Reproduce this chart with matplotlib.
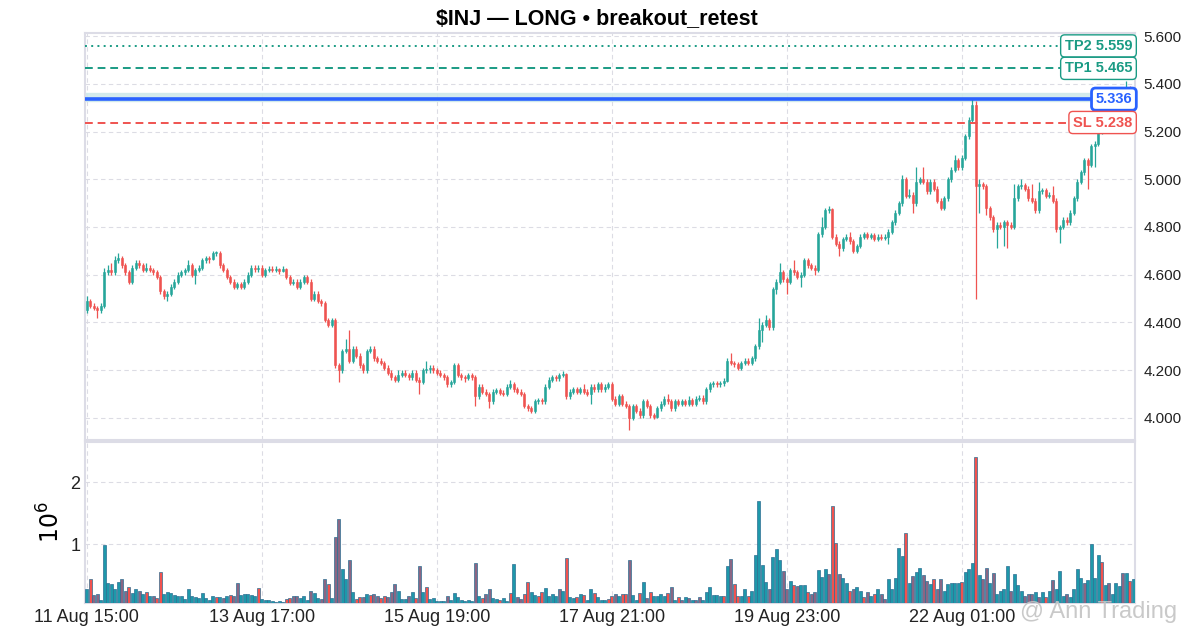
import matplotlib.pyplot as plt
import matplotlib.transforms as mtransforms
import numpy as np

plt.rcParams['font.family'] = ['Liberation Sans', 'DejaVu Sans']

title = "$INJ — LONG • breakout_retest"
tick_pos = [0, 50, 100, 150, 200, 250]
tick_labels = ["11 Aug 15:00", "13 Aug 17:00", "15 Aug 19:00",
               "17 Aug 21:00", "19 Aug 23:00", "22 Aug 01:00"]

first_open = 4.45
closes = [
    4.49, 4.47, 4.46, 4.45, 4.47, 4.61, 4.62, 4.61, 4.66, 4.67,
    4.64, 4.61, 4.57, 4.63, 4.65, 4.64, 4.62, 4.63, 4.62, 4.61,
    4.59, 4.53, 4.51, 4.52, 4.55, 4.57, 4.60, 4.61, 4.62, 4.64,
    4.60, 4.62, 4.63, 4.66, 4.67, 4.665, 4.69, 4.69, 4.64, 4.62,
    4.59, 4.57, 4.55, 4.56, 4.55, 4.57, 4.60, 4.63, 4.625, 4.63,
    4.60, 4.62, 4.625, 4.62, 4.625, 4.615, 4.625, 4.59, 4.565, 4.57,
    4.55, 4.57, 4.59, 4.57, 4.50, 4.52, 4.49, 4.48, 4.41, 4.39,
    4.41, 4.22, 4.20, 4.28, 4.29, 4.24, 4.29, 4.26, 4.22, 4.20,
    4.28, 4.29, 4.25, 4.24, 4.23, 4.21, 4.19, 4.17, 4.16, 4.18,
    4.19, 4.18, 4.17, 4.19, 4.16, 4.15, 4.20, 4.205, 4.21, 4.20,
    4.19, 4.18, 4.17, 4.14, 4.15, 4.22, 4.18, 4.17, 4.165, 4.18,
    4.17, 4.09, 4.13, 4.11, 4.10, 4.07, 4.11, 4.115, 4.105, 4.10,
    4.13, 4.14, 4.12, 4.11, 4.10, 4.05, 4.04, 4.03, 4.07, 4.075,
    4.07, 4.13, 4.16, 4.17, 4.165, 4.18, 4.185, 4.09, 4.11, 4.12,
    4.11, 4.12, 4.11, 4.10, 4.13, 4.12, 4.14, 4.12, 4.13, 4.14,
    4.08, 4.06, 4.09, 4.06, 4.05, 4.00, 4.05, 4.03, 4.01, 4.07,
    4.05, 4.01, 4.005, 4.04, 4.06, 4.08, 4.07, 4.04, 4.07, 4.06,
    4.07, 4.06, 4.075, 4.06, 4.08, 4.085, 4.07, 4.12, 4.14, 4.145,
    4.14, 4.145, 4.155, 4.24, 4.23, 4.225, 4.21, 4.23, 4.24, 4.23,
    4.25, 4.30, 4.37, 4.39, 4.41, 4.38, 4.54, 4.57, 4.61, 4.58,
    4.57, 4.62, 4.61, 4.59, 4.60, 4.66, 4.64, 4.63, 4.62, 4.77,
    4.80, 4.87, 4.875, 4.76, 4.73, 4.71, 4.75, 4.76, 4.74, 4.70,
    4.72, 4.76, 4.77, 4.76, 4.765, 4.75, 4.76, 4.755, 4.76, 4.78,
    4.82, 4.86, 4.90, 5.00, 4.93, 4.935, 4.90, 4.99, 5.00, 4.99,
    4.95, 4.99, 4.96, 4.91, 4.88, 4.92, 5.00, 5.04, 5.08, 5.05,
    5.09, 5.18, 5.25, 5.31, 4.97, 4.98, 4.97, 4.88, 4.84, 4.79,
    4.81, 4.80, 4.82, 4.81, 4.80, 4.92, 4.97, 4.975, 4.96, 4.92,
    4.91, 4.87, 4.95, 4.955, 4.93, 4.935, 4.91, 4.79, 4.80, 4.83,
    4.82, 4.86, 4.92, 4.99, 5.03, 5.08, 5.06, 5.14, 5.15, 5.20,
    5.23, 5.22, 5.26, 5.29, 5.28, 5.31, 5.35, 5.38, 5.36, 5.37,
]
highs = [
    4.51, 4.50, 4.48, 4.47, 4.48, 4.63, 4.64, 4.65, 4.68, 4.69,
    4.68, 4.65, 4.62, 4.64, 4.66, 4.66, 4.65, 4.65, 4.64, 4.63,
    4.62, 4.60, 4.54, 4.53, 4.56, 4.58, 4.61, 4.62, 4.63, 4.66,
    4.65, 4.63, 4.64, 4.67, 4.68, 4.68, 4.70, 4.70, 4.70, 4.65,
    4.63, 4.60, 4.58, 4.57, 4.57, 4.58, 4.61, 4.64, 4.64, 4.64,
    4.64, 4.63, 4.635, 4.635, 4.635, 4.63, 4.635, 4.63, 4.60, 4.58,
    4.58, 4.58, 4.60, 4.60, 4.58, 4.53, 4.53, 4.50, 4.49, 4.42,
    4.42, 4.42, 4.23, 4.29, 4.33, 4.37, 4.30, 4.30, 4.27, 4.23,
    4.29, 4.30, 4.30, 4.26, 4.25, 4.24, 4.22, 4.20, 4.18, 4.20,
    4.20, 4.20, 4.19, 4.20, 4.20, 4.17, 4.21, 4.24, 4.22, 4.22,
    4.21, 4.20, 4.19, 4.18, 4.16, 4.23, 4.23, 4.19, 4.18, 4.19,
    4.19, 4.18, 4.14, 4.14, 4.12, 4.11, 4.12, 4.125, 4.125, 4.115,
    4.14, 4.16, 4.15, 4.13, 4.12, 4.11, 4.06, 4.05, 4.08, 4.085,
    4.085, 4.14, 4.17, 4.18, 4.18, 4.19, 4.195, 4.19, 4.12, 4.13,
    4.13, 4.13, 4.14, 4.12, 4.14, 4.14, 4.15, 4.15, 4.14, 4.15,
    4.15, 4.09, 4.10, 4.10, 4.07, 4.06, 4.06, 4.06, 4.04, 4.08,
    4.08, 4.06, 4.02, 4.05, 4.07, 4.09, 4.10, 4.08, 4.08, 4.08,
    4.08, 4.08, 4.09, 4.085, 4.09, 4.095, 4.095, 4.13, 4.15, 4.155,
    4.155, 4.155, 4.165, 4.25, 4.27, 4.24, 4.235, 4.24, 4.25, 4.25,
    4.26, 4.31, 4.42, 4.40, 4.43, 4.42, 4.55, 4.58, 4.65, 4.62,
    4.59, 4.63, 4.66, 4.62, 4.61, 4.67, 4.67, 4.65, 4.64, 4.78,
    4.84, 4.88, 4.89, 4.88, 4.77, 4.74, 4.76, 4.77, 4.78, 4.75,
    4.73, 4.77, 4.78, 4.78, 4.775, 4.775, 4.77, 4.77, 4.77, 4.79,
    4.83, 4.87, 4.91, 5.02, 5.01, 4.96, 4.945, 5.05, 5.01, 5.05,
    5.00, 5.00, 5.00, 4.97, 4.92, 4.93, 5.01, 5.05, 5.10, 5.09,
    5.10, 5.19, 5.26, 5.335, 5.33, 5.00, 4.99, 4.98, 4.89, 4.85,
    4.82, 4.82, 4.83, 4.83, 4.82, 4.98, 4.98, 5.00, 4.985, 4.97,
    4.98, 4.92, 4.99, 4.965, 4.965, 4.945, 4.97, 4.92, 4.81, 4.84,
    4.84, 4.87, 4.93, 5.00, 5.04, 5.09, 5.09, 5.15, 5.16, 5.21,
    5.24, 5.25, 5.27, 5.30, 5.31, 5.32, 5.36, 5.41, 5.39, 5.38,
]
lows = [
    4.44, 4.46, 4.45, 4.42, 4.44, 4.46, 4.60, 4.60, 4.60, 4.65,
    4.63, 4.60, 4.56, 4.56, 4.62, 4.63, 4.61, 4.61, 4.61, 4.60,
    4.58, 4.52, 4.50, 4.49, 4.51, 4.54, 4.56, 4.59, 4.60, 4.61,
    4.59, 4.56, 4.61, 4.62, 4.65, 4.65, 4.66, 4.68, 4.63, 4.61,
    4.58, 4.56, 4.54, 4.54, 4.54, 4.54, 4.56, 4.59, 4.61, 4.61,
    4.59, 4.59, 4.61, 4.61, 4.61, 4.605, 4.61, 4.58, 4.555, 4.555,
    4.54, 4.54, 4.56, 4.56, 4.49, 4.49, 4.48, 4.47, 4.40, 4.38,
    4.38, 4.21, 4.15, 4.19, 4.27, 4.23, 4.23, 4.25, 4.21, 4.19,
    4.19, 4.27, 4.24, 4.23, 4.22, 4.20, 4.18, 4.16, 4.15, 4.15,
    4.17, 4.17, 4.16, 4.16, 4.15, 4.10, 4.14, 4.19, 4.19, 4.19,
    4.18, 4.17, 4.16, 4.13, 4.13, 4.14, 4.17, 4.16, 4.15, 4.16,
    4.16, 4.05, 4.08, 4.10, 4.09, 4.04, 4.06, 4.10, 4.095, 4.09,
    4.09, 4.12, 4.11, 4.10, 4.09, 4.04, 4.03, 4.02, 4.02, 4.06,
    4.06, 4.06, 4.12, 4.15, 4.155, 4.155, 4.17, 4.08, 4.08, 4.10,
    4.10, 4.10, 4.10, 4.09, 4.06, 4.11, 4.11, 4.11, 4.11, 4.12,
    4.07, 4.05, 4.05, 4.05, 4.04, 3.95, 3.99, 4.02, 4.00, 4.00,
    4.04, 4.00, 3.995, 4.00, 4.03, 4.05, 4.06, 4.03, 4.03, 4.05,
    4.05, 4.05, 4.05, 4.05, 4.05, 4.07, 4.06, 4.06, 4.11, 4.13,
    4.13, 4.13, 4.135, 4.15, 4.22, 4.215, 4.20, 4.20, 4.22, 4.22,
    4.22, 4.24, 4.29, 4.32, 4.38, 4.37, 4.37, 4.52, 4.56, 4.57,
    4.52, 4.56, 4.60, 4.58, 4.55, 4.59, 4.63, 4.62, 4.60, 4.61,
    4.76, 4.79, 4.86, 4.75, 4.72, 4.68, 4.70, 4.74, 4.73, 4.69,
    4.69, 4.71, 4.75, 4.75, 4.75, 4.74, 4.74, 4.745, 4.745, 4.73,
    4.77, 4.81, 4.85, 4.89, 4.92, 4.92, 4.86, 4.89, 4.98, 4.98,
    4.94, 4.94, 4.95, 4.90, 4.87, 4.87, 4.91, 4.99, 5.03, 5.04,
    5.04, 5.08, 5.17, 5.24, 4.50, 4.86, 4.96, 4.85, 4.83, 4.78,
    4.71, 4.79, 4.72, 4.71, 4.79, 4.79, 4.91, 4.96, 4.95, 4.91,
    4.90, 4.86, 4.86, 4.94, 4.92, 4.92, 4.90, 4.78, 4.735, 4.79,
    4.81, 4.81, 4.85, 4.91, 4.98, 5.02, 4.96, 5.05, 5.05, 5.14,
    5.19, 5.21, 5.21, 5.25, 5.27, 5.27, 5.30, 5.34, 5.35, 5.35,
]

# volume in millions, colour code: t = teal, r = red, p = purple
volumes = [
    .28, .44, .18, .20, .10, .99, .37, .36, .28, .39,
    .43, .24, .31, .21, .28, .24, .20, .23, .16, .17,
    .13, .55, .20, .23, .21, .18, .16, .17, .12, .27,
    .16, .15, .13, .21, .13, .09, .17, .15, .15, .13,
    .17, .18, .17, .37, .18, .20, .20, .18, .17, .29,
    .11, .10, .10, .08, .06, .08, .06, .11, .13, .16,
    .17, .13, .17, .10, .24, .21, .13, .12, .44, .35,
    .13, 1.11, 1.40, .60, .43, .75, .23, .11, .14, .14,
    .20, .18, .20, .16, .13, .16, .14, .22, .36, .24,
    .11, .11, .17, .22, .13, .65, .23, .31, .11, .13,
    .08, .08, .08, .17, .10, .21, .15, .10, .08, .10,
    .08, .70, .17, .13, .20, .28, .13, .12, .10, .13,
    .08, .21, .68, .15, .11, .20, .39, .23, .18, .16,
    .23, .29, .16, .20, .16, .27, .25, .78, .15, .13,
    .15, .20, .18, .10, .27, .21, .15, .10, .09, .11,
    .16, .19, .16, .19, .19, .75, .18, .10, .21, .39,
    .13, .23, .16, .17, .20, .17, .21, .31, .10, .15,
    .10, .15, .13, .09, .10, .15, .09, .23, .31, .18,
    .18, .17, .16, .64, .76, .35, .17, .17, .28, .17,
    .24, .83, 1.70, .66, .39, .28, .79, .92, .75, .57,
    .28, .41, .34, .32, .34, .34, .23, .20, .22, .58,
    .47, .59, .51, 1.62, 1.01, .51, .45, .38, .25, .27,
    .30, .25, .15, .22, .17, .19, .28, .19, .12, .43,
    .28, .46, .93, .80, 1.18, .38, .49, .55, .62, .50,
    .40, .35, .43, .28, .44, .24, .35, .37, .37, .38,
    .39, .55, .59, .70, 2.41, .50, .43, .62, .37, .54,
    .20, .25, .27, .65, .24, .51, .34, .25, .17, .19,
    .20, .23, .15, .22, .15, .24, .42, .28, .57, .17,
    .20, .15, .27, .59, .45, .38, .42, 1.00, .45, .83,
    .71, .34, .37, .20, .37, .32, .53, .54, .40, .43,
]
vol_codes = "".join([
    "trpptttttt", "pprttptrtp", "rrtttttttt", "tttttttrtp", "trpptttttr",
    "tttttttrrp", "ptttpttppr", "tppttptrrp", "trpprrpppt", "ttptrptrtt",
    "tttptttttt", "tptrppttrt", "trtpprrttr", "rttttptrtt", "rtrttrtttr",
    "rptrrpttrt", "prttttrptr", "ptptpptttt", "ttrtprrttr", "tttttptttp",
    "ptrpttrppt", "ttprrpttrp", "ttrptrtppt", "ttttrtpttp", "ptrppttttt",
    "rtttrtpptp", "ttttptttpp", "ptptrtpttt", "pttttptttt", "rtptttptrt",
])

levels = {"TP2": 5.559, "TP1": 5.465, "ENTRY": 5.336, "SL": 5.238}

n = len(closes)
idx = np.arange(n)
opens = np.array([first_open] + closes[:-1])
closes = np.array(closes)
up = closes >= opens

green = '#26a69a'
red = '#ef5350'
teal_line = '#1a9b84'
blue = '#2962ff'
grid_c = '#dcdce4'
spine_c = '#dcdce6'

fig = plt.figure(figsize=(11.87, 6.38), dpi=100)
ax = fig.add_axes([0.0716, 0.3103, 0.8846, 0.6379])
axv = fig.add_axes([0.0716, 0.0549, 0.8846, 0.2527], sharex=ax)

# candles
ccol = [green if u else red for u in up]
ax.vlines(idx, lows, highs, colors=ccol, linewidth=0.9, zorder=3)
body_lo = np.minimum(opens, closes)
body_h = np.maximum(np.abs(closes - opens), 0.004)
ax.bar(idx, body_h, bottom=body_lo, width=0.62, color=ccol,
       edgecolor=ccol, linewidth=0.4, zorder=4)

# levels
ax.axhspan(5.330, 5.362, color='#cfe9ea', alpha=0.9, zorder=1)
ax.axhline(levels["ENTRY"], color=blue, lw=2.6, zorder=5)
ax.axhline(levels["TP2"], color=teal_line, lw=1.4, ls=(0, (1, 2.2)), zorder=5)
ax.axhline(levels["TP1"], color=teal_line, lw=1.4, ls=(0, (4, 2.5)), zorder=5)
ax.axhline(levels["SL"], color=red, lw=1.4, ls=(0, (4, 2.5)), zorder=5)

trans = mtransforms.blended_transform_factory(ax.transAxes, ax.transData)
def tag(y, text, col, lw=1.0, size=10.5):
    ax.annotate(text, xy=(1.0, y), xycoords=trans, xytext=(-2, 0),
                textcoords='offset points', ha='right', va='center',
                fontsize=size, fontweight='bold', color=col, zorder=10,
                annotation_clip=False,
                bbox=dict(boxstyle='round,pad=0.28', fc='white', ec=col, lw=lw))

tag(levels["TP2"], "TP2 5.559", teal_line)
tag(levels["TP1"], "TP1 5.465", teal_line)
tag(levels["ENTRY"], "5.336", blue, lw=2.0, size=10.5)
tag(levels["SL"], "SL 5.238", red)

ax.set_ylim(3.907, 5.613)
ax.set_xlim(-0.5, n - 0.5)
ax.set_yticks(np.arange(4.0, 5.61, 0.2))
ax.yaxis.tick_right()
ax.yaxis.set_major_formatter(plt.FormatStrFormatter('%.3f'))
ax.tick_params(axis='y', length=0, labelsize=11, pad=6, colors='#222222')
ax.tick_params(axis='x', length=0, labelbottom=False)
ax.grid(True, color=grid_c, ls=(0, (4, 3)), lw=0.8)
ax.set_axisbelow(True)
fig.text(0.503, 0.971, title, ha='center', va='center',
         fontsize=15.5, fontweight='bold')

# volume
cmap = {'t': '#1e98aa', 'r': '#f0524f', 'p': '#8a6684'}
vcols = [cmap[c] for c in vol_codes]
axv.bar(idx, volumes, width=0.8, color=vcols, edgecolor='#2d6f92',
        linewidth=0.5, zorder=3)
axv.set_ylim(0.05, 2.65)
axv.set_yticks([1, 2])
axv.set_yticklabels(["1", "2"])
axv.set_ylabel("$10^{6}$", fontsize=17, labelpad=4)
axv.tick_params(axis='y', length=0, labelsize=13, colors='#222222')
axv.set_xticks(tick_pos)
axv.set_xticklabels(tick_labels)
axv.tick_params(axis='x', length=0, labelsize=13, colors='#222222', pad=4)
axv.grid(True, color=grid_c, ls=(0, (4, 3)), lw=0.8)
axv.set_axisbelow(True)

for a in (ax, axv):
    for s in a.spines.values():
        s.set_color(spine_c)
        s.set_linewidth(1.5)

fig.text(0.992, 0.04, "@ Ann Trading", ha='right', va='center',
         fontsize=17, color='#c4c4c4', alpha=0.9)

fig.savefig('out.png', dpi=100)
